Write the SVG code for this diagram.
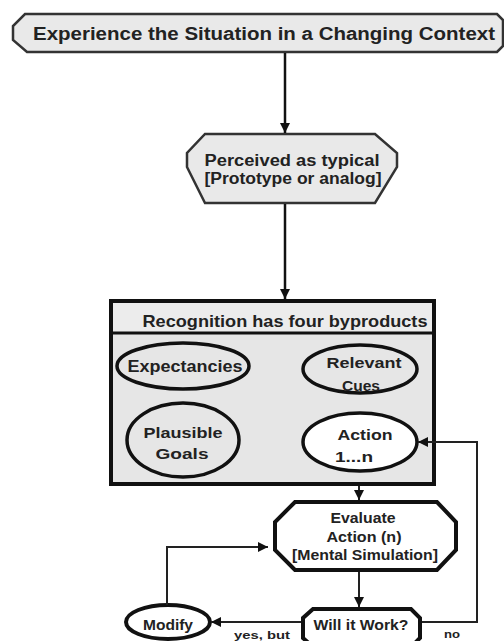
<svg xmlns="http://www.w3.org/2000/svg" width="504" height="641" viewBox="0 0 504 641">
<defs>
<style>
text{font-family:"Liberation Sans",Arial,sans-serif;font-weight:bold;fill:#222;text-anchor:middle}
.pale{fill:#e9e9e9;stroke:#333;stroke-width:2.5}
.ell{fill:none;stroke:#111;stroke-width:3.5}
.conn{fill:none;stroke:#111;stroke-width:2.5}
.thin{fill:none;stroke:#222;stroke-width:2}
</style>
<marker id="ah" viewBox="0 0 10 10" refX="10" refY="5" markerWidth="11" markerHeight="10" markerUnits="userSpaceOnUse" orient="auto">
<path d="M0,0 L10,5 L0,10 Z" fill="#111"/>
</marker>
</defs>
<rect width="504" height="641" fill="#fff"/>

<g id="experience">
<polygon class="pale" points="25,14 497,14 503,20 503,46 497,52 27,52 13,40 13,26"/>
<text x="264" y="40" font-size="18" textLength="462" lengthAdjust="spacingAndGlyphs">Experience the Situation in a Changing Context</text>
</g>

<g id="perceived">
<polygon class="pale" points="205,134 375,134 397,153 397,167 375,203 205,203 187,167 187,153"/>
<text x="292" y="166" font-size="16" textLength="175" lengthAdjust="spacingAndGlyphs">Perceived as typical</text>
<text x="293" y="184" font-size="16" textLength="177" lengthAdjust="spacingAndGlyphs">[Prototype or analog]</text>
</g>

<g id="recognition">
<rect x="111" y="301" width="323" height="183" fill="#e6e6e6" stroke="#111" stroke-width="4"/>
<rect x="113" y="303" width="319" height="30" fill="#ececec"/>
<line x1="111" y1="333" x2="434" y2="333" stroke="#111" stroke-width="3"/>
<text x="285" y="327" font-size="16.5" textLength="285" lengthAdjust="spacingAndGlyphs">Recognition has four byproducts</text>
</g>

<g id="expectancies">
<ellipse class="ell" cx="183" cy="366" rx="66" ry="23"/>
<text x="185" y="372" font-size="16" textLength="115" lengthAdjust="spacingAndGlyphs">Expectancies</text>
</g>

<g id="cues">
<ellipse class="ell" cx="360" cy="369" rx="57" ry="24"/>
<text x="364" y="368" font-size="15.5" textLength="75" lengthAdjust="spacingAndGlyphs">Relevant</text>
<text x="361" y="391" font-size="15.5" textLength="38" lengthAdjust="spacingAndGlyphs">Cues</text>
</g>

<g id="goals">
<ellipse class="ell" cx="183" cy="440" rx="56" ry="37"/>
<text x="183" y="438" font-size="15.5" textLength="79" lengthAdjust="spacingAndGlyphs">Plausible</text>
<text x="182" y="459" font-size="15.5" textLength="53" lengthAdjust="spacingAndGlyphs">Goals</text>
</g>

<g id="action">
<ellipse cx="360" cy="442" rx="57" ry="29" fill="#fff" stroke="#111" stroke-width="3.5"/>
<text x="365" y="440" font-size="15.5" textLength="55" lengthAdjust="spacingAndGlyphs">Action</text>
<text x="354" y="462" font-size="15.5" textLength="38" lengthAdjust="spacingAndGlyphs">1...n</text>
</g>

<g id="evaluate">
<polygon points="295,502 437,502 456,522 456,550 437,570 295,570 275,550 275,522" fill="#fff" stroke="#111" stroke-width="4"/>
<text x="363" y="523" font-size="14" textLength="65" lengthAdjust="spacingAndGlyphs">Evaluate</text>
<text x="364" y="542" font-size="14" textLength="75" lengthAdjust="spacingAndGlyphs">Action (n)</text>
<text x="365" y="560" font-size="14" textLength="146" lengthAdjust="spacingAndGlyphs">[Mental Simulation]</text>
</g>

<g id="willitwork">
<polygon points="313,609 411,609 420,618 420,638 411,647 313,647 303,638 303,618" fill="#fff" stroke="#111" stroke-width="4"/>
<text x="361" y="630" font-size="14" textLength="95" lengthAdjust="spacingAndGlyphs">Will it Work?</text>
</g>

<g id="modify">
<ellipse cx="168" cy="622" rx="42" ry="17" fill="#fff" stroke="#111" stroke-width="4"/>
<text x="168" y="630" font-size="14" textLength="50" lengthAdjust="spacingAndGlyphs">Modify</text>
</g>

<g id="connectors">
<line class="conn" x1="285" y1="53" x2="285" y2="133" marker-end="url(#ah)"/>
<line class="conn" x1="285" y1="204" x2="285" y2="299" stroke="#555" marker-end="url(#ah)"/>
<line class="thin" x1="359" y1="486" x2="359" y2="500" marker-end="url(#ah)"/>
<line class="thin" x1="359" y1="572" x2="359" y2="607" marker-end="url(#ah)"/>
<polyline class="thin" points="422,622 477,622 477,442 418,442" marker-end="url(#ah)"/>
<line class="thin" x1="301" y1="622" x2="211" y2="622" marker-end="url(#ah)"/>
<polyline class="thin" points="167,605 167,547 268,547" marker-end="url(#ah)"/>
<text x="262" y="639" font-size="11.5" textLength="56" lengthAdjust="spacingAndGlyphs">yes, but</text>
<text x="452" y="638" font-size="11.5" textLength="16" lengthAdjust="spacingAndGlyphs">no</text>
</g>
</svg>
